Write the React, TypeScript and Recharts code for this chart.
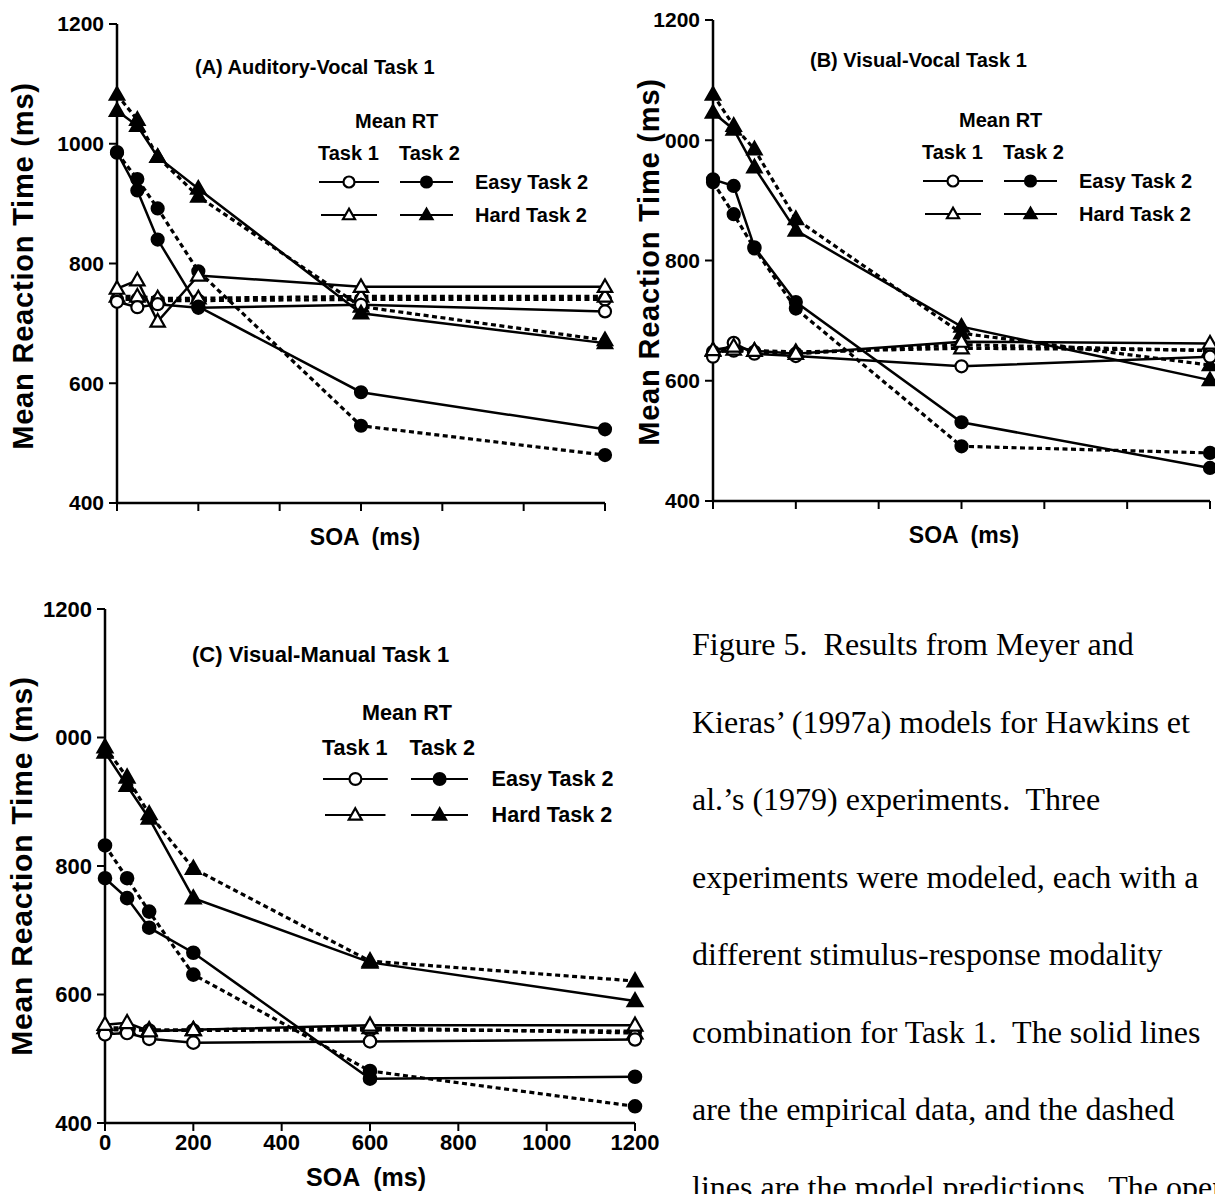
import React from 'react';
import { Line, LineChart, XAxis, YAxis } from 'recharts';

// SOA levels (ms) and axis ticks
const soa = [0, 50, 100, 200, 600, 1200];
const xTicks = [0, 200, 400, 600, 800, 1000, 1200];
const yTicks = [400, 600, 800, 1000, 1200];
const yLabelsA = ['400', '600', '800', '1000', '1200'];
const yLabelsBC = ['400', '600', '800', '000', '1200'];

// (A) Auditory-Vocal Task 1 — obs = empirical (solid), model = predictions (dashed)
const aT1EasyObs = [736, 727, 732, 726, 731, 720];
const aT1EasyModel = [740, 740, 738, 738, 740, 740];
const aT1HardObs = [758, 772, 703, 780, 761, 761];
const aT1HardModel = [745, 745, 742, 742, 745, 745];
const aT2EasyObs = [986, 922, 840, 728, 585, 523];
const aT2EasyModel = [985, 941, 892, 787, 529, 480];
const aT2HardObs = [1055, 1030, 978, 925, 717, 667];
const aT2HardModel = [1082, 1040, 978, 912, 728, 672];

// (B) Visual-Vocal Task 1
const bT1EasyObs = [640, 663, 645, 641, 624, 640];
const bT1EasyModel = [648, 650, 648, 645, 660, 650];
const bT1HardObs = [651, 657, 650, 645, 665, 662];
const bT1HardModel = [650, 652, 650, 648, 654, 651];
const bT2EasyObs = [935, 924, 822, 731, 531, 455];
const bT2EasyModel = [930, 877, 820, 720, 491, 480];
const bT2HardObs = [1046, 1018, 955, 850, 690, 601];
const bT2HardModel = [1076, 1024, 985, 869, 679, 626];

// (C) Visual-Manual Task 1
const cT1EasyObs = [538, 540, 531, 525, 527, 530];
const cT1EasyModel = [545, 545, 544, 544, 545, 543];
const cT1HardObs = [553, 556, 543, 545, 552, 552];
const cT1HardModel = [548, 548, 545, 545, 548, 540];
const cT2EasyObs = [781, 750, 704, 665, 469, 472];
const cT2EasyModel = [832, 781, 729, 631, 481, 426];
const cT2HardObs = [977, 925, 874, 750, 650, 590];
const cT2HardModel = [985, 938, 881, 796, 652, 621];

const captionLines = [
  'Figure 5.  Results from Meyer and',
  'Kieras\u2019 (1997a) models for Hawkins et',
  'al.\u2019s (1979) experiments.  Three',
  'experiments were modeled, each with a',
  'different stimulus-response modality',
  'combination for Task 1.  The solid lines',
  'are the empirical data, and the dashed',
  'lines are the model predictions.  The open',
];

const sans = '"Liberation Sans", Arial, Helvetica, sans-serif';

type Shape = 'openCircle' | 'filledCircle' | 'openTriangle' | 'filledTriangle';

const buildRows = (cols: Record<string, number[]>) =>
  soa.map((x, i) => {
    const row: Record<string, number> = { soa: x };
    Object.keys(cols).forEach((k) => {
      row[k] = cols[k][i];
    });
    return row;
  });

const dataA = buildRows({
  t1EasyObs: aT1EasyObs, t1EasyModel: aT1EasyModel, t1HardObs: aT1HardObs, t1HardModel: aT1HardModel,
  t2EasyObs: aT2EasyObs, t2EasyModel: aT2EasyModel, t2HardObs: aT2HardObs, t2HardModel: aT2HardModel
});
const dataB = buildRows({
  t1EasyObs: bT1EasyObs, t1EasyModel: bT1EasyModel, t1HardObs: bT1HardObs, t1HardModel: bT1HardModel,
  t2EasyObs: bT2EasyObs, t2EasyModel: bT2EasyModel, t2HardObs: bT2HardObs, t2HardModel: bT2HardModel
});
const dataC = buildRows({
  t1EasyObs: cT1EasyObs, t1EasyModel: cT1EasyModel, t1HardObs: cT1HardObs, t1HardModel: cT1HardModel,
  t2EasyObs: cT2EasyObs, t2EasyModel: cT2EasyModel, t2HardObs: cT2HardObs, t2HardModel: cT2HardModel
});

const seriesDefs: { key: string; shape: Shape; dashed: boolean }[] = [
  { key: 't1EasyModel', shape: 'openCircle', dashed: true },
  { key: 't1HardModel', shape: 'openTriangle', dashed: true },
  { key: 't2EasyModel', shape: 'filledCircle', dashed: true },
  { key: 't2HardModel', shape: 'filledTriangle', dashed: true },
  { key: 't1EasyObs', shape: 'openCircle', dashed: false },
  { key: 't1HardObs', shape: 'openTriangle', dashed: false },
  { key: 't2EasyObs', shape: 'filledCircle', dashed: false },
  { key: 't2HardObs', shape: 'filledTriangle', dashed: false }
];

const Marker = ({ shape, cx, cy, r }: { shape: Shape; cx: number; cy: number; r: number }) => {
  const fill = shape.startsWith('open') ? '#fff' : '#000';
  if (shape.endsWith('Circle')) {
    return <circle cx={cx} cy={cy} r={r} fill={fill} stroke="#000" strokeWidth={2.2} />;
  }
  const w = r * 1.2;
  const pts = `${cx},${cy - r * 1.25} ${cx - w},${cy + r * 0.85} ${cx + w},${cy + r * 0.85}`;
  return <polygon points={pts} fill={fill} stroke="#000" strokeWidth={2.2} strokeLinejoin="miter" />;
};

const makeDot = (shape: Shape, r: number) => (props: any) => {
  const { cx, cy, index } = props;
  if (cx == null || cy == null) return <g key={`d-${index}`} />;
  return (
    <g key={`d-${index}`}>
      <Marker shape={shape} cx={cx} cy={cy} r={r} />
    </g>
  );
};

interface PanelProps {
  data: Record<string, number>[];
  left: number;
  top: number;
  width: number;
  height: number;
  margin: { top: number; right: number; bottom: number; left: number };
  fontSize: number;
  yLabels: string[];
  xLabels: boolean;
  r: number;
}

const Panel = ({ data, left, top, width, height, margin, fontSize, yLabels, xLabels, r }: PanelProps) => {
  const tickStyle = { fill: '#000', fontSize, fontWeight: 700, fontFamily: sans };
  return (
    <div style={{ position: 'absolute', left, top }}>
      <LineChart width={width} height={height} data={data} margin={margin}>
        <XAxis
          dataKey="soa"
          type="number"
          domain={[0, 1200]}
          ticks={xTicks}
          height={40}
          tickSize={8}
          tickMargin={3}
          axisLine={{ stroke: '#000', strokeWidth: 2.5 }}
          tickLine={{ stroke: '#000', strokeWidth: 2 }}
          tick={tickStyle}
          tickFormatter={(v) => (xLabels ? String(v) : '')}
        />
        <YAxis
          type="number"
          domain={[400, 1200]}
          ticks={yTicks}
          width={60}
          tickSize={8}
          tickMargin={5}
          axisLine={{ stroke: '#000', strokeWidth: 2.5 }}
          tickLine={{ stroke: '#000', strokeWidth: 2 }}
          tick={tickStyle}
          tickFormatter={(v) => yLabels[yTicks.indexOf(v)] ?? String(v)}
        />
        {seriesDefs.map((s) => (
          <Line
            key={s.key}
            dataKey={s.key}
            type="linear"
            stroke="#000"
            strokeWidth={s.dashed ? 3.2 : 2.5}
            strokeDasharray={s.dashed ? '5 3.5' : undefined}
            dot={makeDot(s.shape, r)}
            activeDot={false}
            isAnimationActive={false}
          />
        ))}
      </LineChart>
    </div>
  );
};

const Text = ({ x, y, size, children, center }: { x: number; y: number; size: number; children: React.ReactNode; center?: boolean }) => (
  <div
    style={{
      position: 'absolute',
      left: x,
      top: y,
      transform: center ? 'translate(-50%, -50%)' : 'translateY(-50%)',
      fontFamily: sans,
      fontWeight: 700,
      fontSize: size,
      lineHeight: 1,
      whiteSpace: 'pre',
      color: '#000'
    }}
  >
    {children}
  </div>
);

const YTitle = ({ x, y, size }: { x: number; y: number; size: number }) => (
  <div
    style={{
      position: 'absolute',
      left: x,
      top: y,
      transform: 'translate(-50%, -50%) rotate(-90deg)',
      fontFamily: sans,
      fontWeight: 700,
      fontSize: size,
      lineHeight: 1,
      whiteSpace: 'nowrap',
      letterSpacing: 0.8
    }}
  >
    Mean Reaction Time (ms)
  </div>
);

const LegendIcon = ({ x, y, w, shape, r }: { x: number; y: number; w: number; shape: Shape; r: number }) => (
  <svg style={{ position: 'absolute', left: x, top: y - 10 }} width={w} height={20}>
    <line x1={0} y1={10} x2={w} y2={10} stroke="#000" strokeWidth={2} />
    <Marker shape={shape} cx={w / 2} cy={10} r={r} />
  </svg>
);

// legend block; x = left of "Task 1", y = centre of the "Task 1 Task 2" row
const MeanRTLegend = ({ x, y, s }: { x: number; y: number; s: number }) => {
  const f = 20 * s;
  return (
    <>
      <Text x={x + 37 * s} y={y - 32 * s} size={f}>Mean RT</Text>
      <Text x={x} y={y} size={f}>Task 1</Text>
      <Text x={x + 81 * s} y={y} size={f}>Task 2</Text>
      <LegendIcon x={x + 1 * s} y={y + 29 * s} w={60 * s} shape="openCircle" r={5.5 * s} />
      <LegendIcon x={x + 82 * s} y={y + 29 * s} w={53 * s} shape="filledCircle" r={5.5 * s} />
      <Text x={x + 157 * s} y={y + 29 * s} size={f}>Easy Task 2</Text>
      <LegendIcon x={x + 3 * s} y={y + 62 * s} w={56 * s} shape="openTriangle" r={5 * s} />
      <LegendIcon x={x + 82 * s} y={y + 62 * s} w={53 * s} shape="filledTriangle" r={5 * s} />
      <Text x={x + 157 * s} y={y + 62 * s} size={f}>Hard Task 2</Text>
    </>
  );
};

export default function App() {
  return (
    <div
      style={{
        position: 'absolute',
        left: 0,
        top: 0,
        width: 1215,
        height: 1194,
        overflow: 'hidden',
        background: '#fff'
      }}
    >
      {/* Panel A */}
      <Panel
        data={dataA}
        left={0}
        top={0}
        width={620}
        height={560}
        margin={{ top: 24, right: 15, bottom: 17, left: 57 }}
        fontSize={21}
        yLabels={yLabelsA}
        xLabels={false}
        r={6}
      />
      <YTitle x={23} y={266} size={29} />
      <Text x={195} y={67} size={20}>(A) Auditory-Vocal Task 1</Text>
      <MeanRTLegend x={318} y={153} s={1} />
      <Text x={365} y={537} size={23} center>SOA  (ms)</Text>

      {/* Panel B */}
      <Panel
        data={dataB}
        left={640}
        top={0}
        width={575}
        height={560}
        margin={{ top: 20, right: 5, bottom: 19, left: 13 }}
        fontSize={21}
        yLabels={yLabelsBC}
        xLabels={false}
        r={6}
      />
      <YTitle x={649} y={262} size={29} />
      <Text x={810} y={60} size={20}>(B) Visual-Vocal Task 1</Text>
      <MeanRTLegend x={922} y={152} s={1} />
      <Text x={964} y={535} size={23} center>SOA  (ms)</Text>

      {/* Panel C */}
      <Panel
        data={dataC}
        left={0}
        top={560}
        width={660}
        height={634}
        margin={{ top: 49, right: 25, bottom: 31, left: 45 }}
        fontSize={22}
        yLabels={yLabelsBC}
        xLabels={true}
        r={6.2}
      />
      <YTitle x={22} y={866} size={30} />
      <Text x={192} y={655} size={22}>(C) Visual-Manual Task 1</Text>
      <MeanRTLegend x={322} y={748} s={1.08} />
      <Text x={366} y={1177} size={25} center>SOA  (ms)</Text>

      {/* Caption (last line runs off the page as in the source) */}
      <div
        style={{
          position: 'absolute',
          left: 692,
          top: 606,
          fontFamily: '"Liberation Serif", "Times New Roman", serif',
          fontSize: 32,
          lineHeight: '77.5px',
          whiteSpace: 'pre',
          color: '#000'
        }}
      >
        {captionLines.map((line) => (
          <div key={line}>{line}</div>
        ))}
      </div>
    </div>
  );
}
